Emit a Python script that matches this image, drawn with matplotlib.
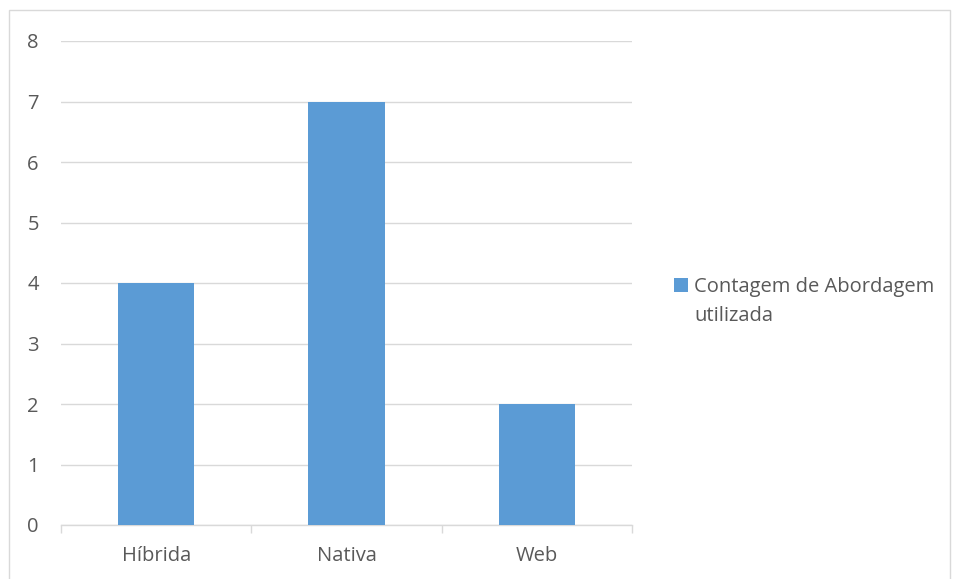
import matplotlib
matplotlib.use("Agg")
import matplotlib.pyplot as plt
from matplotlib.patches import Rectangle
import numpy as np

categories = ["Híbrida", "Nativa", "Web"]
values = [4, 7, 2]
series_name = "Contagem de Abordagem utilizada"
yticks = [0, 1, 2, 3, 4, 5, 6, 7, 8]

plt.rcParams['font.family'] = ['Open Sans', 'DejaVu Sans']
W, H = 956, 579
FS = 14.5
fig = plt.figure(figsize=(W/100, H/100), dpi=100)
ax = fig.add_axes([61/W, 1-525/H, (632-61)/W, (525-41)/H])

x = np.arange(len(categories))
bars = ax.bar(x, values, width=0.4, color="#5b9bd5", zorder=3, label=series_name)
ax.set_xlim(-0.5, len(categories)-0.5)
ax.set_ylim(0, 8)
ax.set_yticks(yticks)
ax.set_yticklabels([str(t) for t in yticks])
ax.yaxis.grid(True, color="#d9d9d9", linewidth=1, zorder=0)
ax.set_axisbelow(True)
for s in ["top", "right", "left"]:
    ax.spines[s].set_visible(False)
ax.spines["bottom"].set_color("#d9d9d9")
ax.spines["bottom"].set_linewidth(1)
ax.tick_params(axis="y", length=0, pad=16, labelsize=FS, labelcolor="#595959")
ax.set_xticks(x)
ax.set_xticklabels(categories)
ax.tick_params(axis="x", which="major", length=0, pad=15, labelsize=FS, labelcolor="#595959")
ax.set_xticks(np.arange(-0.5, len(categories)), minor=True)
ax.tick_params(axis="x", which="minor", length=6, color="#d9d9d9", width=1)

# Legend: wrapped label, handle aligned with the first line (as in Excel)
words = series_name.split(" ")
line1 = " ".join(words[:3])
line2 = " ".join(words[3:])
blank = Rectangle((0, 0), 1, 1, alpha=0)
leg = fig.legend(handles=[bars, blank], labels=[line1, line2], loc="upper left",
                 bbox_to_anchor=(674/W, 1-277/H), frameon=False,
                 fontsize=FS, handlelength=0.7, handleheight=0.7,
                 handletextpad=0.3, labelspacing=0.45, labelcolor="#595959",
                 borderaxespad=0, borderpad=0)

fig.patches.append(Rectangle((9/W, -2/H), (950-9)/W, (569+2)/H,
                             transform=fig.transFigure, fill=False,
                             edgecolor="#d9d9d9", linewidth=1))
fig.savefig("out.png", dpi=100)
